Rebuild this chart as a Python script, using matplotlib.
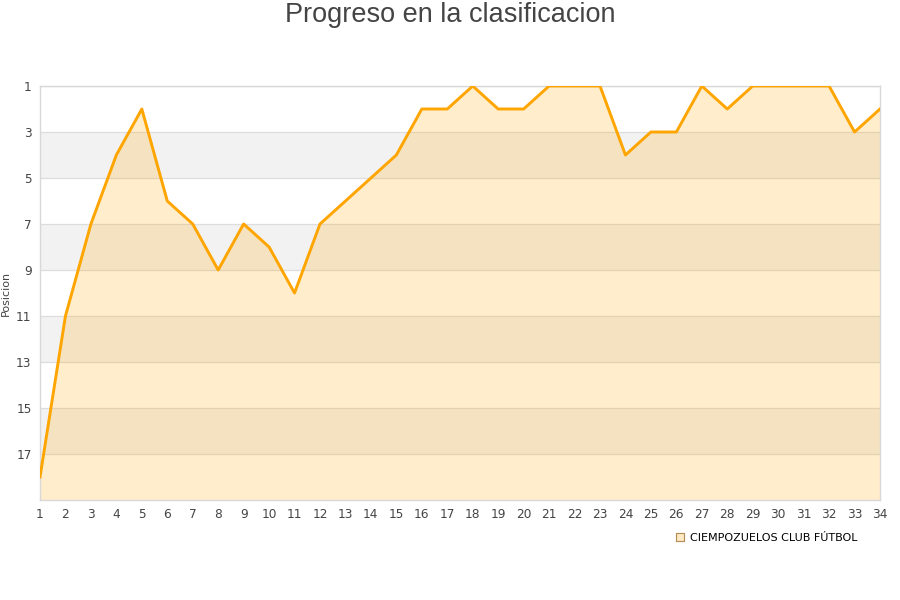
import matplotlib
matplotlib.use("Agg")
import matplotlib.pyplot as plt
from matplotlib.lines import Line2D

rounds = list(range(1, 35))
positions = [18, 11, 7, 4, 2, 6, 7, 9, 7, 8, 10, 7, 6, 5, 4, 2, 2, 1, 2, 2,
             1, 1, 1, 4, 3, 3, 1, 2, 1, 1, 1, 1, 3, 2]
team = "CIEMPOZUELOS CLUB FÚTBOL"
title = "Progreso en la clasificacion"
ylabel = "Posicion"
yticks = [1, 3, 5, 7, 9, 11, 13, 15, 17]
grey_bands = [(3, 5), (7, 9), (11, 13), (15, 17)]

fig = plt.figure(figsize=(9, 6), dpi=100)
ax = fig.add_axes([40/900, 100/600, 840/900, 414/600])

for a, b in grey_bands:
    ax.axhspan(a, b, color="#f2f2f2", zorder=0, lw=0)
for t in yticks:
    ax.axhline(t, color="#dddddd", lw=0.9, zorder=1)

ax.fill_between(rounds, positions, 19, color="#ffa500", alpha=0.2, lw=0, zorder=2)
ax.plot(rounds, positions, color="#ffa500", lw=2.1, zorder=3, solid_joinstyle="round")

ax.set_xlim(1, 34)
ax.set_ylim(19, 1)
ax.set_xticks(rounds)
ax.set_yticks(yticks)
ax.tick_params(axis="both", length=0, labelsize=8.7, colors="#444444", pad=6)
ax.tick_params(axis="y", pad=6)
for s in ax.spines.values():
    s.set_color("#d8d8d8")
    s.set_linewidth(1)

ax.set_ylabel(ylabel, fontsize=8, color="#444444")
ax.yaxis.set_label_coords(-29/840, 0.5)
fig.text(0.5, 1 - 15/600, title, ha="center", va="center", fontsize=19.5,
         color="#444444", family="Liberation Sans")

handle = Line2D([], [], marker="s", linestyle="none", markersize=6,
                markerfacecolor="#fde9c4", markeredgecolor="#b08a50", markeredgewidth=0.8)
fig.legend([handle], [team], loc="center left", bbox_to_anchor=(674/900, 1 - 538/600),
           frameon=False, fontsize=8, handletextpad=0.4, borderaxespad=0, borderpad=0,
           handlelength=1.0)

fig.savefig("out.png", dpi=100)
